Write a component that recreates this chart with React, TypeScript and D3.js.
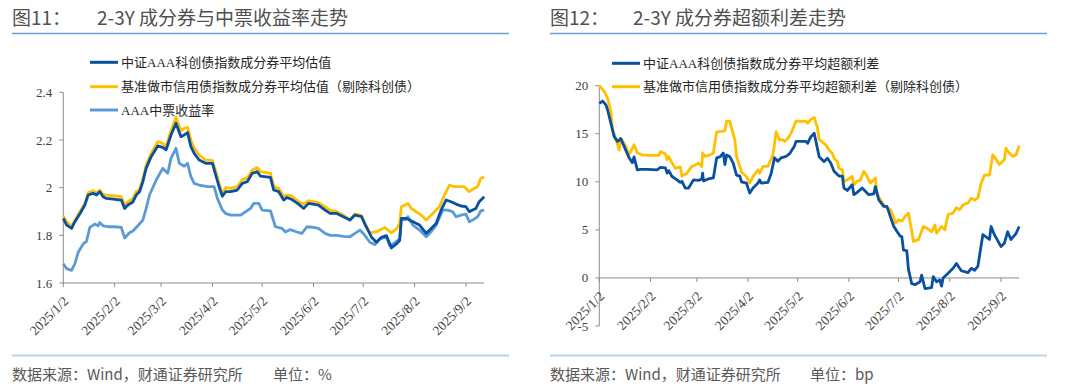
import React from "react";
import * as d3 from "d3";

// ---------- DATA ----------
const START = "2025-01-02";
const xTickLabels = ["2025/1/2", "2025/2/2", "2025/3/2", "2025/4/2", "2025/5/2", "2025/6/2", "2025/7/2", "2025/8/2", "2025/9/2"];
const xDomainDays = [0, 254]; // days after START

// Chart 11 (% yields) — [day offset from 2025-01-02, value]
const kcAAAValuation: [number, number][] = [[0,1.871],[2,1.843],[5,1.829],[7,1.857],[10,1.89],[13,1.927],[15,1.969],[18,1.976],[20,1.969],[22,1.983],[24,1.962],[26,1.955],[30,1.952],[35,1.948],[37,1.913],[39,1.927],[42,1.94],[44,1.969],[46,1.983],[48,2.025],[50,2.081],[53,2.13],[57,2.175],[60,2.169],[62,2.158],[65,2.221],[68,2.27],[71,2.214],[73,2.221],[75,2.231],[77,2.172],[79,2.144],[82,2.116],[86,2.102],[90,2.102],[92,2.053],[94,2.004],[96,1.964],[98,1.983],[101,1.983],[105,1.99],[108,2.018],[111,2.025],[114,2.06],[117,2.067],[119,2.048],[125,2.043],[127,1.99],[130,1.983],[133,1.948],[135,1.959],[138,1.95],[142,1.931],[145,1.913],[148,1.934],[154,1.927],[158,1.906],[161,1.892],[165,1.892],[169,1.878],[173,1.864],[176,1.885],[180,1.878],[182,1.847],[186,1.792],[189,1.771],[192,1.792],[195,1.799],[198,1.747],[201,1.764],[203,1.778],[204,1.871],[207,1.871],[211,1.857],[215,1.843],[219,1.808],[222,1.829],[225,1.85],[228,1.906],[231,1.948],[234,1.941],[237,1.931],[240,1.923],[243,1.92],[245,1.899],[247,1.906],[249,1.913],[251,1.941],[254,1.962]];
const mmCreditValuation: [number, number][] = [[0,1.88],[2,1.857],[5,1.838],[7,1.863],[10,1.899],[13,1.934],[15,1.978],[18,1.987],[20,1.978],[22,1.99],[24,1.972],[26,1.969],[30,1.966],[35,1.962],[37,1.927],[39,1.941],[42,1.955],[44,1.983],[46,1.993],[48,2.034],[50,2.095],[53,2.144],[57,2.193],[60,2.186],[62,2.172],[65,2.239],[68,2.295],[71,2.239],[73,2.249],[75,2.253],[77,2.2],[79,2.165],[82,2.137],[86,2.116],[90,2.113],[92,2.067],[94,2.018],[96,1.976],[98,2.0],[101,1.997],[105,2.004],[108,2.034],[111,2.041],[114,2.074],[117,2.085],[119,2.067],[125,2.06],[127,2.004],[130,1.997],[133,1.965],[135,1.969],[138,1.965],[142,1.941],[145,1.931],[148,1.945],[154,1.937],[158,1.92],[161,1.906],[165,1.899],[169,1.885],[173,1.864],[176,1.89],[180,1.883],[182,1.85],[185,1.81],[189,1.815],[194,1.833],[198,1.81],[201,1.826],[203,1.85],[204,1.92],[208,1.934],[210,1.913],[213,1.899],[216,1.885],[219,1.864],[221,1.878],[224,1.899],[227,1.92],[230,1.969],[233,2.01],[236,2.004],[239,2.004],[242,2.004],[245,1.983],[247,1.993],[250,2.004],[252,2.04],[254,2.043]];
const aaaMTNYield: [number, number][] = [[0,1.681],[2,1.66],[5,1.653],[7,1.681],[9,1.729],[12,1.764],[14,1.775],[16,1.833],[19,1.847],[21,1.84],[22,1.854],[24,1.84],[27,1.836],[31,1.836],[35,1.833],[37,1.789],[40,1.811],[42,1.818],[45,1.84],[48,1.864],[50,1.913],[52,1.969],[56,2.031],[60,2.081],[63,2.06],[65,2.123],[68,2.165],[70,2.102],[73,2.09],[75,2.102],[77,2.046],[79,2.018],[82,2.011],[87,2.004],[91,2.004],[93,1.955],[96,1.906],[98,1.892],[101,1.885],[104,1.885],[107,1.885],[110,1.899],[113,1.913],[115,1.934],[118,1.934],[120,1.906],[125,1.903],[128,1.836],[132,1.829],[134,1.814],[137,1.824],[141,1.814],[144,1.808],[147,1.836],[151,1.833],[154,1.829],[158,1.808],[161,1.8],[165,1.8],[169,1.796],[173,1.794],[176,1.808],[179,1.822],[181,1.808],[183,1.79],[185,1.771],[188,1.761],[191,1.785],[195,1.792],[197,1.757],[199,1.764],[203,1.785],[204,1.871],[206,1.864],[208,1.878],[211,1.843],[215,1.822],[219,1.794],[222,1.815],[225,1.843],[229,1.906],[232,1.906],[235,1.899],[237,1.878],[240,1.885],[243,1.889],[245,1.857],[247,1.864],[250,1.878],[252,1.903],[254,1.906]];
const leftYTicks = [1.6, 1.8, 2.0, 2.2, 2.4];
const leftYTickLabels = ["1.6", "1.8", "2", "2.2", "2.4"];

// Chart 12 (bp excess spread)
const kcAAASpread: [number, number][] = [[0,18.17],[2,18.4],[4,18.0],[5,17.5],[7,16.1],[9,14.7],[11,14.2],[13,14.5],[16,13.3],[18,12.5],[20,12.0],[21,12.6],[23,11.25],[25,11.3],[29,11.3],[35,11.25],[37,11.5],[40,11.45],[41,10.9],[42,11.15],[44,10.55],[47,10.2],[49,9.94],[50,10.05],[52,9.35],[54,9.35],[57,10.2],[60,10.15],[62,10.3],[62.5,10.9],[63,10.1],[66,10.3],[69,10.4],[71,12.5],[73,12.6],[75,13.0],[76,11.8],[77,12.8],[79,12.6],[81,11.95],[83,10.7],[85,10.6],[86,10.0],[89,9.87],[91,8.83],[93,9.35],[96,9.87],[97,10.2],[98,9.87],[102,9.94],[104,10.9],[106,12.5],[108,12.15],[110,12.5],[113,12.65],[115,12.9],[118,13.7],[119,14.2],[125,14.2],[126,14.0],[128,14.7],[130,15.05],[133,12.6],[136,12.1],[138,12.45],[140,11.95],[142,11.1],[145,10.6],[147,10.6],[148,9.35],[150,9.1],[152,9.5],[153,9.7],[154,8.66],[156,8.9],[159,9.35],[163,8.66],[166,8.75],[167,9.5],[169,8.14],[172,7.45],[174,7.45],[176,6.4],[178,5.4],[180,4.85],[182,4.35],[183,4.3],[184,2.9],[186,2.85],[187,0.9],[189,-0.6],[191,-0.7],[194,-0.4],[195,0.3],[197,-1.1],[201,-1.0],[202,0.14],[204,-0.4],[206,-0.2],[207,-0.85],[208,0.0],[211,0.5],[214,1.0],[216,1.5],[219,0.75],[223,0.56],[225,1.0],[227,0.8],[229,1.2],[232,4.5],[236,4.0],[237,5.35],[239,4.5],[243,3.26],[245,3.6],[247,4.8],[249,4.0],[251,4.4],[252,4.6],[254,5.35]];
const mmCreditSpread: [number, number][] = [[0,20.0],[3,19.4],[5,18.7],[7,17.3],[8,15.4],[10,14.5],[12,13.3],[13,14.5],[16,13.7],[18,12.8],[21,13.85],[23,13.0],[26,12.8],[31,12.75],[36,12.75],[37,13.15],[40,12.9],[41,12.3],[42,12.65],[44,11.95],[46,11.4],[49,11.55],[50,10.6],[53,10.9],[56,11.6],[58,11.75],[60,11.95],[62,11.6],[62.5,13.0],[64,12.65],[67,12.8],[69,13.0],[71,15.2],[74,15.25],[76,15.3],[77,16.3],[79,16.3],[80,15.6],[82,14.4],[83,12.65],[85,11.6],[86,11.0],[89,10.55],[91,9.87],[93,10.55],[96,11.25],[97,10.9],[99,11.6],[102,11.6],[105,12.8],[107,15.2],[109,14.35],[111,14.4],[112,14.2],[114,14.5],[116,15.05],[119,16.3],[125,16.3],[126,16.1],[128,16.5],[130,16.7],[132,15.6],[133,14.4],[137,13.85],[139,13.3],[141,12.95],[142,12.45],[144,12.1],[145,11.4],[147,11.25],[148,10.05],[150,10.2],[153,10.55],[154,9.7],[156,10.05],[158,10.2],[160,11.1],[162,10.55],[164,9.87],[167,10.4],[168,8.8],[170,8.14],[173,7.4],[176,7.1],[178,6.4],[179,5.7],[181,6.05],[183,5.9],[185,6.4],[187,6.75],[189,4.85],[190,3.8],[193,3.96],[196,5.35],[198,5.2],[201,4.8],[203,5.5],[204,4.65],[207,5.35],[209,5.0],[210,5.85],[211,6.6],[214,6.75],[216,7.3],[218,7.1],[220,7.6],[223,7.8],[225,8.3],[227,8.1],[229,8.3],[231,9.87],[233,10.7],[236,10.7],[238,12.8],[239,12.6],[242,11.8],[245,12.3],[246,13.5],[248,13.0],[250,12.65],[252,12.8],[254,13.75]];
const rightYTicks = [-5, 0, 5, 10, 15, 20];

const leftLegend = ["中证AAA科创债指数成分券平均估值", "基准做市信用债指数成分券平均估值（剔除科创债）", "AAA中票收益率"];
const rightLegend = ["中证AAA科创债指数成分券平均超额利差", "基准做市信用债指数成分券平均超额利差（剔除科创债）"];

// ---------- STYLE ----------
const DARK = "#0b4fa0";
const GOLD = "#ffc000";
const LIGHT = "#5b9bd5";
const AXIS = "#8c8c8c";
const SERIF = "'Liberation Serif', 'Times New Roman', 'Noto Sans CJK SC', serif";
const SANS = "'Noto Sans CJK SC', 'Noto Sans', sans-serif";

const parse = d3.timeParse("%Y-%m-%d");
const start = parse(START) as Date;
const toDate = (d: number) => new Date(start.getTime() + d * 86400000);
const tickDates = xTickLabels.map((s) => {
  const [y, m, d] = s.split("/").map(Number);
  return new Date(y, m - 1, d);
});

type Series = { data: [number, number][]; color: string };

function Panel(props: {
  ox: number;
  xr: [number, number];
  yDomain: [number, number];
  yRange: [number, number];
  yTicks: number[];
  yLabels: string[];
  xAxisValue: number;
  series: Series[];
  legend: string[];
  legendColors: string[];
  legendX: number;
  legendY: number[];
  title1: string;
  title2: string;
  title2X: number;
  unit: string;
  unitX: number;
}) {
  const x = d3.scaleTime().domain([toDate(xDomainDays[0]), toDate(xDomainDays[1])]).range(props.xr);
  const y = d3.scaleLinear().domain(props.yDomain).range(props.yRange);
  const line = d3
    .line<[number, number]>()
    .x((d) => x(toDate(d[0])))
    .y((d) => y(d[1]));
  const axisY = y(props.xAxisValue);
  const ox = props.ox;
  return (
    <g>
      {/* title */}
      <text x={ox + 12} y={25} fontFamily={SANS} fontSize={19} fill="#505050">{props.title1}</text>
      <text x={ox + props.title2X} y={25} fontFamily={SANS} fontSize={19} fill="#505050">{props.title2}</text>
      <line x1={ox + 12} x2={ox + 509} y1={33.5} y2={33.5} stroke="#6a9fd6" strokeWidth={1.5} />
      {/* y axis */}
      <line x1={props.xr[0]} x2={props.xr[0]} y1={y(props.yDomain[1])} y2={y(props.yDomain[0])} stroke={AXIS} strokeWidth={1} />
      {props.yTicks.map((t, i) => (
        <g key={"yt" + i}>
          <line x1={props.xr[0] - 4} x2={props.xr[0]} y1={y(t)} y2={y(t)} stroke={AXIS} />
          <text x={props.xr[0] - 11} y={y(t)} dy="0.35em" textAnchor="end" fontFamily={SERIF} fontSize={13} fill="#404040">
            {props.yLabels[i]}
          </text>
        </g>
      ))}
      {/* x axis */}
      <line x1={props.xr[0]} x2={props.xr[1]} y1={axisY} y2={axisY} stroke={AXIS} strokeWidth={1} />
      {tickDates.map((d, i) => (
        <g key={"xt" + i}>
          <line x1={x(d)} x2={x(d)} y1={axisY} y2={axisY + 4} stroke={AXIS} />
          <text
            transform={`translate(${x(d) + 6},${axisY + 19}) rotate(-45)`}
            textAnchor="end"
            fontFamily={SERIF}
            fontSize={13.5}
            fill="#404040"
          >
            {xTickLabels[i]}
          </text>
        </g>
      ))}
      {/* series */}
      {props.series.map((s, i) => (
        <path key={"s" + i} d={line(s.data) || ""} fill="none" stroke={s.color} strokeWidth={2.8} strokeLinejoin="round" />
      ))}
      {/* legend */}
      {props.legend.map((l, i) => (
        <g key={"lg" + i}>
          <line x1={props.legendX} x2={props.legendX + 28} y1={props.legendY[i]} y2={props.legendY[i]} stroke={props.legendColors[i]} strokeWidth={3} />
          <text x={props.legendX + 31} y={props.legendY[i]} dy="0.35em" fontFamily={SERIF} fontSize={13} fill="#262626">{l}</text>
        </g>
      ))}
      {/* footer */}
      <line x1={ox + 12} x2={ox + 509} y1={355.5} y2={355.5} stroke="#bcd3ec" strokeWidth={2} />
      <text x={ox + 12} y={380} fontFamily={SANS} fontSize={15} fill="#595959">数据来源：Wind，财通证券研究所</text>
      <text x={ox + props.unitX} y={380} fontFamily={SANS} fontSize={15} fill="#595959">{props.unit}</text>
    </g>
  );
}

export default function App() {
  return (
    <svg width={1080} height={391} style={{ position: "absolute", left: 0, top: 0, background: "#fff" }}>
      <rect width={1080} height={391} fill="#fff" />
      <Panel
        ox={0}
        xr={[63.3, 484.2]}
        yDomain={[1.6, 2.4]}
        yRange={[283, 92.3]}
        yTicks={leftYTicks}
        yLabels={leftYTickLabels}
        xAxisValue={1.6}
        series={[
          { data: aaaMTNYield, color: LIGHT },
          { data: mmCreditValuation, color: GOLD },
          { data: kcAAAValuation, color: DARK },
        ]}
        legend={leftLegend}
        legendColors={[DARK, GOLD, LIGHT]}
        legendX={90}
        legendY={[62.3, 86.7, 110]}
        title1="图11："
        title2="2-3Y 成分券与中票收益率走势"
        title2X={97}
        unit="单位：%"
        unitX={273}
      />
      <Panel
        ox={538}
        xr={[599.3, 1019.2]}
        yDomain={[-5, 20]}
        yRange={[326, 85.7]}
        yTicks={rightYTicks}
        yLabels={rightYTicks.map(String)}
        xAxisValue={0}
        series={[
          { data: mmCreditSpread, color: GOLD },
          { data: kcAAASpread, color: DARK },
        ]}
        legend={rightLegend}
        legendColors={[DARK, GOLD]}
        legendX={612}
        legendY={[63.3, 86.7]}
        title1="图12："
        title2="2-3Y 成分券超额利差走势"
        title2X={95}
        unit="单位：bp"
        unitX={272}
      />
    </svg>
  );
}
